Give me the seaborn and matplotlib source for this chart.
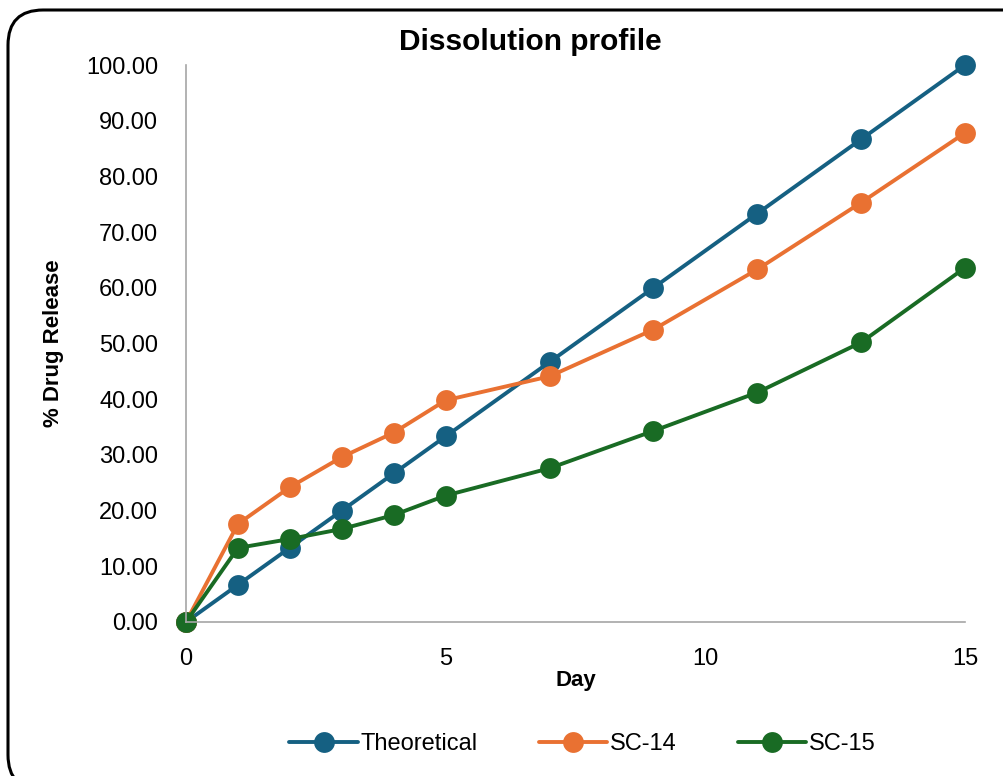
import numpy as np
import pandas as pd
import matplotlib
matplotlib.use("Agg")
import matplotlib.pyplot as plt
import seaborn as sns
from matplotlib.patches import FancyBboxPatch

days = [0, 1, 2, 3, 4, 5, 7, 9, 11, 13, 15]
theoretical = [0.00, 6.67, 13.33, 20.00, 26.67, 33.33, 46.67, 60.00, 73.33, 86.67, 100.00]
sc14 = [0.00, 17.6, 24.2, 29.6, 34.0, 39.8, 44.1, 52.5, 63.3, 75.3, 87.8]
sc15 = [0.00, 13.3, 14.9, 16.7, 19.2, 22.7, 27.6, 34.3, 41.2, 50.2, 63.6]
series_names = ["Theoretical", "SC-14", "SC-15"]
colors = ["#156082", "#E97132", "#196B24"]

df = pd.DataFrame({
    "Day": days * 3,
    "Release": theoretical + sc14 + sc15,
    "Series": [series_names[0]] * len(days) + [series_names[1]] * len(days) + [series_names[2]] * len(days),
})

sns.set_theme(style="white")
plt.rcParams["font.family"] = ["Liberation Sans", "DejaVu Sans"]
plt.rcParams["text.color"] = "black"
plt.rcParams["axes.labelcolor"] = "black"

fig = plt.figure(figsize=(10.04, 7.76), dpi=100)
ax = fig.add_axes([186/1004, 1 - 622/776, (965-186)/1004, (622-65)/776])

sns.lineplot(data=df, x="Day", y="Release", hue="Series", hue_order=series_names,
             palette=colors, marker="o", markersize=15, markeredgewidth=0,
             linewidth=2.8, ax=ax, clip_on=False, legend=True)

ax.set_xlim(0, 15)
ax.set_ylim(0, 100)
ax.set_xticks([0, 5, 10, 15])
ax.set_yticks(np.arange(0, 101, 10))
ax.set_yticklabels([f"{v:.2f}" for v in np.arange(0, 101, 10)])
ax.tick_params(axis="y", labelsize=17, colors="black", labelcolor="black", length=0, pad=20)
ax.tick_params(axis="x", labelsize=17, colors="black", labelcolor="black", length=0, pad=19)
for s in ["top", "right"]:
    ax.spines[s].set_visible(False)
for s in ["left", "bottom"]:
    ax.spines[s].set_color("#A6A6A6")
    ax.spines[s].set_linewidth(1.2)

ax.set_xlabel("Day", fontsize=16, fontweight="bold", labelpad=0, color="black")
ax.set_ylabel("% Drug Release", fontsize=16, fontweight="bold", labelpad=16, color="black")
fig.text(0.528, 1 - 42/776, "Dissolution profile", ha="center", va="center",
         fontsize=21.5, fontweight="bold", color="black")

handles, labels = ax.get_legend_handles_labels()
leg = fig.legend(handles, labels, loc="center", bbox_to_anchor=(0.58, 1 - 744/776),
                 ncol=3, frameon=False, fontsize=17, handlelength=2.9,
                 columnspacing=2.6, handletextpad=0.1)
if ax.get_legend():
    ax.get_legend().remove()

box = FancyBboxPatch((8/1004, 1 - 790/776), 1.05, 780/776,
                     boxstyle="round,pad=0,rounding_size=0.035",
                     transform=fig.transFigure, fill=False, edgecolor="black",
                     linewidth=2.2, mutation_aspect=1004/776)
fig.patches.append(box)

fig.savefig("out.png", dpi=100)
